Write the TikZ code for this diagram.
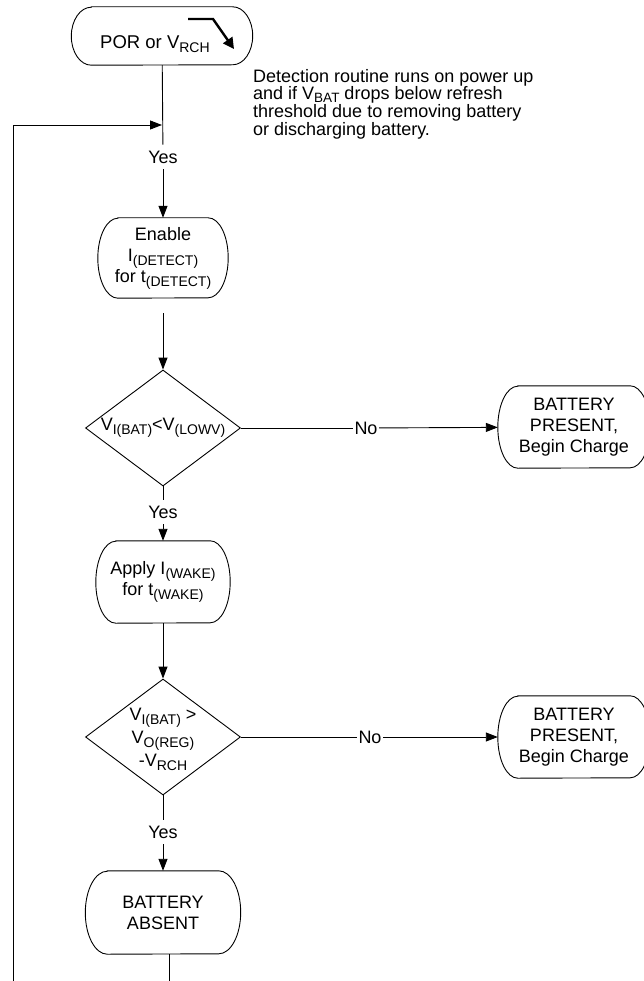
\documentclass[tikz,border=0pt]{standalone}
\usepackage{fontspec}
\setmainfont{Liberation Sans}
\usetikzlibrary{shapes.geometric,arrows.meta,calc}
\newcommand\sbx[1]{\raisebox{-4pt}{\fontsize{14}{14}\selectfont #1}}
\newcommand\sbn[1]{\raisebox{-2.5pt}[\height][0pt]{\fontsize{13.5}{13.5}\selectfont #1}}
% stadium outline around a node: #1 name, #2 end x-radius, #3 half height
\newcommand\stad[3]{\draw[flow] ($(#1.north west)+(#2,0)$) -- ($(#1.north east)+(-#2,0)$)
  arc[start angle=90,end angle=-90,x radius=#2,y radius=#3] -- ($(#1.south west)+(#2,0)$)
  arc[start angle=270,end angle=90,x radius=#2,y radius=#3] -- cycle;}
\tikzset{
  base/.style={font=\fontsize{18}{21}\selectfont},
  term/.style={base,align=center,inner sep=0pt},
  decision/.style={draw,line width=0.9pt,diamond,inner sep=0pt,minimum width=155pt,minimum height=116pt},
  lbl/.style={base,inner sep=6pt,align=center},
  nolbl/.style={base,inner xsep=1.5pt,inner ysep=2pt},
  flow/.style={line width=0.9pt},
  arr/.style={line width=0.9pt,-{Triangle[length=12pt,width=9pt]}},
}
\begin{document}
\begin{tikzpicture}[x=1pt,y=-1pt]
\path[use as bounding box] (0,0) rectangle (644,981);
% nodes
\node[term,minimum width=181pt,minimum height=58pt] (por) at (162,36) {};
\stad{por}{20pt}{29pt}
\node[base,anchor=base west,inner sep=0pt,font=\fontsize{18.5}{21}\selectfont] (portxt) at (100,48.5) {POR or V\sbx{RCH}};
\coordinate (ps1) at (188,19);
\coordinate (ps2) at (213,19);
\coordinate (ps3) at (234,49);
\draw[line width=2.4pt,-{Triangle[length=11pt,width=11pt]}] (ps1) -- (ps2) -- (ps3);
\node[anchor=north west,align=left,inner sep=0pt,font=\fontsize{18}{17.7}\selectfont] (note) at (253,69)
  {Detection routine runs on power up\\and if V\sbn{BAT} drops below refresh\\threshold due to removing battery\\or discharging battery.};
\node[lbl] (yes1) at (163,157) {Yes};
\node[term,minimum width=130pt,minimum height=80pt] (enable) at (163,258) {Enable\\I\sbx{(DETECT)}\\for t\sbx{(DETECT)}};
\stad{enable}{20pt}{40pt}
\node[decision] (d1) at (163,428) {};
\node[base,inner sep=0pt] (d1t) at (163,428) {V\sbx{I(BAT)}<V\sbx{(LOWV)}};
\node[nolbl] (no1) at (366,428) {No};
\node[term,minimum width=152pt,minimum height=82pt] (pres1) at (574,427) {BATTERY\\PRESENT,\\Begin Charge};
\stad{pres1}{20pt}{41pt}
\node[lbl] (yes2) at (163,512) {Yes};
\node[term,minimum width=134pt,minimum height=82pt] (apply) at (163,582) {Apply I\sbx{(WAKE)}\\for t\sbx{(WAKE)}};
\stad{apply}{20pt}{41pt}
\node[decision] (d2) at (163,737) {};
\node[base,inner sep=0pt,align=center,font=\fontsize{18}{23}\selectfont] (d2t) at (163,739) {V\sbx{I(BAT)} >\\V\sbx{O(REG)}\\-V\sbx{RCH}};
\node[nolbl] (no2) at (370,737) {No};
\node[term,minimum width=152pt,minimum height=82pt] (pres2) at (574,737) {BATTERY\\PRESENT,\\Begin Charge};
\stad{pres2}{20pt}{41pt}
\node[lbl] (yes3) at (163,832) {Yes};
\node[term,minimum width=155pt,minimum height=83pt] (absent) at (163,912.5) {BATTERY\\ABSENT};
\stad{absent}{22pt}{41.5pt}
% connectors
\draw[flow] (por) -- (yes1);
\draw[arr] (yes1) -- (enable);
\draw[arr] ([yshift=-15pt]enable.south) -- (d1.north);
\draw[flow] (d1.east) -- (no1);
\draw[arr] (no1) -- (pres1);
\draw[flow] (d1.south) -- (yes2);
\draw[arr] (yes2) -- (apply);
\draw[arr] (apply) -- (d2.north);
\draw[flow] (d2.east) -- (no2);
\draw[arr] (no2) -- (pres2);
\draw[flow] (d2.south) -- (yes3);
\draw[arr] (yes3) -- (absent);
\coordinate (ab) at (169,981);
\draw[flow] (ab |- absent.south) -- (ab);
\coordinate (lb) at (13,981);
\coordinate (lt) at (13,125);
\draw[arr] (lb) -- (lt) -- (lt -| por.south);
\end{tikzpicture}
\end{document}
